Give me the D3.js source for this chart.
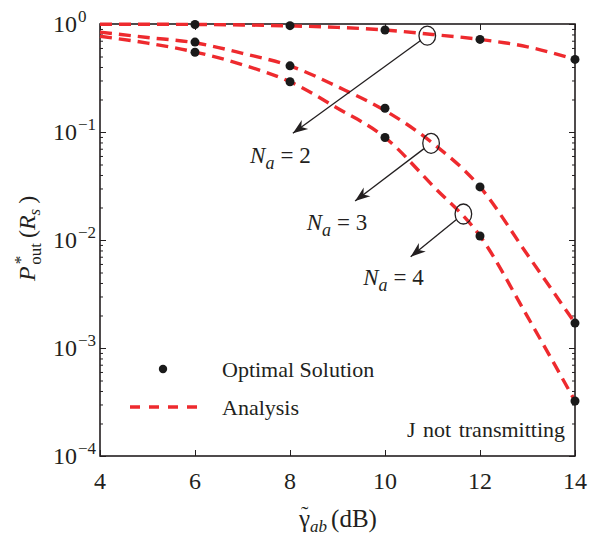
<!DOCTYPE html>
<html>
<head>
<meta charset="utf-8">
<script src="https://cdn.jsdelivr.net/npm/d3@7"></script>
<style>
  html, body { margin: 0; padding: 0; background: #fff; }
  svg { display: block; }
  text { font-family: "Liberation Serif", "Times New Roman", serif; fill: #231f20; }
</style>
</head>
<body>
<svg id="chart" width="606" height="536"></svg>
<script>
// ---------- data ----------
const markerX = [6, 8, 10, 12, 14];
const optNa2 = [0.99, 0.965, 0.88, 0.72, 0.47];
const optNa3 = [0.68, 0.41, 0.166, 0.031, 0.0017];
const optNa4 = [0.547, 0.292, 0.089, 0.0109, 0.000323];

const analysisX = [4, 5, 6, 7, 8, 9, 10, 11, 12, 13, 14];
const anaNa2 = [0.995, 0.995, 0.99, 0.98, 0.96, 0.93, 0.88, 0.80, 0.72, 0.615, 0.47];
const anaNa3 = [0.84, 0.75, 0.67, 0.535, 0.41, 0.263, 0.158, 0.079, 0.031, 0.0073, 0.0017];
const anaNa4 = [0.77, 0.665, 0.55, 0.42, 0.292, 0.166, 0.089, 0.032, 0.0109, 0.00195, 0.000323];

const xTicks = [4, 6, 8, 10, 12, 14];
const yTicks = [1e-4, 1e-3, 1e-2, 1e-1, 1];
const yTickExp = ["\u22124", "\u22123", "\u22122", "\u22121", "0"];

// annotations: ellipse centre, arrow tip, label anchor (data units)
const annoLabels = ["2", "3", "4"];
const annoCirc = [[10.89, 0.78], [10.97, 0.0786], [11.65, 0.0174]];
const annoTip = [[8.06, 0.0973], [9.37, 0.023], [10.54, 0.0070]];
const annoText = [[7.16, 0.052], [8.35, 0.0124], [9.54, 0.00383]];

// ---------- layout ----------
const L = 100, R = 575, T = 24, B = 456;
const svg = d3.select("#chart");
const x = d3.scaleLinear().domain([4, 14]).range([L, R]);
const y = d3.scaleLog().domain([1e-4, 1]).range([B, T]);
const red = "#ee2a2e";

// minor ticks
const minor = [];
for (let e = -4; e < 0; e++) for (let m = 2; m <= 9; m++) minor.push(m * Math.pow(10, e));

function styleAxis(g) {
  g.select(".domain").remove();
  g.selectAll(".tick line").attr("stroke", "#231f20").attr("stroke-width", 1);
  g.selectAll(".tick text").remove();
}
svg.append("g").attr("transform", `translate(0,${B})`).call(d3.axisBottom(x).tickValues(xTicks).tickSize(-6)).call(styleAxis);
svg.append("g").attr("transform", `translate(0,${T})`).call(d3.axisTop(x).tickValues(xTicks).tickSize(-6)).call(styleAxis);
svg.append("g").attr("transform", `translate(${L},0)`).call(d3.axisLeft(y).tickValues(yTicks).tickSize(-6)).call(styleAxis);
svg.append("g").attr("transform", `translate(${R},0)`).call(d3.axisRight(y).tickValues(yTicks).tickSize(-6)).call(styleAxis);
svg.append("g").attr("transform", `translate(${L},0)`).call(d3.axisLeft(y).tickValues(minor).tickSize(-3)).call(styleAxis);
svg.append("g").attr("transform", `translate(${R},0)`).call(d3.axisRight(y).tickValues(minor).tickSize(-3)).call(styleAxis);

// box
svg.append("rect").attr("x", L).attr("y", T).attr("width", R - L).attr("height", B - T)
  .attr("fill", "none").attr("stroke", "#231f20").attr("stroke-width", 1.6);

// x tick labels
svg.append("g").selectAll("text").data(xTicks).join("text")
  .attr("x", d => x(d)).attr("y", B + 33).attr("text-anchor", "middle")
  .attr("font-size", 24).text(d => d);

// y tick labels
const yl = svg.append("g").selectAll("text").data(yTicks).join("text")
  .attr("x", 53).attr("y", d => y(d) + 8).attr("font-size", 24);
yl.append("tspan").text("10");
yl.append("tspan").attr("dx", 1).attr("dy", -10).attr("font-size", 17).text((d, i) => yTickExp[i]);

// analysis curves
const line = d3.line().x(d => x(d[0])).y(d => y(d[1])).curve(d3.curveMonotoneX);
[anaNa2, anaNa3, anaNa4].forEach(vals => {
  svg.append("path").datum(analysisX.map((v, i) => [v, vals[i]]))
    .attr("d", line).attr("fill", "none").attr("stroke", red)
    .attr("stroke-width", 3.4).attr("stroke-dasharray", "12,7");
});

// markers
[optNa2, optNa3, optNa4].forEach(vals => {
  svg.append("g").selectAll("circle").data(markerX.map((v, i) => [v, vals[i]])).join("circle")
    .attr("cx", d => x(d[0])).attr("cy", d => y(d[1])).attr("r", 4.5).attr("fill", "#1a1a1a");
});

// arrow marker
svg.append("defs").append("marker").attr("id", "arr")
  .attr("markerUnits", "userSpaceOnUse").attr("markerWidth", 30).attr("markerHeight", 30)
  .attr("refX", 0).attr("refY", 0).attr("viewBox", "-20 -15 30 30").attr("orient", "auto")
  .append("path").attr("d", "M0,0 L-15,-5.5 L-10.5,0 L-15,5.5 Z").attr("fill", "#231f20");

// annotations
annoLabels.forEach((lab, i) => {
  const cx = x(annoCirc[i][0]), cy = y(annoCirc[i][1]);
  const tx = x(annoTip[i][0]), ty = y(annoTip[i][1]);
  const rx = 8.3, ry = i === 0 ? 9.5 : 10;
  svg.append("ellipse").attr("cx", cx).attr("cy", cy).attr("rx", rx).attr("ry", ry)
    .attr("fill", "none").attr("stroke", "#231f20").attr("stroke-width", 1.3);
  const dx = tx - cx, dy = ty - cy, len = Math.hypot(dx, dy);
  const ux = dx / len, uy = dy / len;
  const t = 1 / Math.sqrt((ux / rx) ** 2 + (uy / ry) ** 2);
  svg.append("line").attr("x1", cx + ux * t).attr("y1", cy + uy * t).attr("x2", tx).attr("y2", ty)
    .attr("stroke", "#231f20").attr("stroke-width", 1.3).attr("marker-end", "url(#arr)");
  const txt = svg.append("text").attr("x", x(annoText[i][0])).attr("y", y(annoText[i][1])).attr("font-size", 23);
  txt.append("tspan").attr("font-style", "italic").text("N");
  txt.append("tspan").attr("font-style", "italic").attr("font-size", 18).attr("dy", 6).text("a");
  txt.append("tspan").attr("dy", -6).attr("dx", 6).text("= " + lab);
});

// legend
svg.append("circle").attr("cx", 163).attr("cy", 369).attr("r", 4.2).attr("fill", "#1a1a1a");
svg.append("text").attr("x", 222).attr("y", 377).attr("font-size", 22).text("Optimal Solution");
svg.append("line").attr("x1", 130).attr("x2", 198).attr("y1", 407).attr("y2", 407)
  .attr("stroke", red).attr("stroke-width", 3.4).attr("stroke-dasharray", "10,9");
svg.append("text").attr("x", 222).attr("y", 415).attr("font-size", 22).text("Analysis");

svg.append("text").attr("x", 565).attr("y", 437).attr("text-anchor", "end").attr("font-size", 22)
  .attr("word-spacing", 2).text("J not transmitting");

// x axis label: gamma with tilde (same text element), italic subscript ab, (dB)
const xLabY = 527;
const xl = svg.append("text").attr("x", 338).attr("y", xLabY).attr("text-anchor", "middle").attr("font-size", 25);
xl.append("tspan").text("\u03B3");
const tilde = xl.append("tspan").attr("font-size", 22).text("\u02DC");
const sub = xl.append("tspan").attr("font-style", "italic").attr("font-size", 17).text("ab");
xl.append("tspan").attr("dy", -5).attr("dx", 4).text("(dB)");
{
  const node = xl.node();
  const g = node.getExtentOfChar(0), tl = node.getExtentOfChar(1);
  const d = -(g.width / 2 + tl.width / 2);
  tilde.attr("dx", d).attr("dy", -6);
  sub.attr("dx", -(d + tl.width)).attr("dy", 11);
}

// y axis label
const ylab = svg.append("text").attr("transform", "translate(35,281) rotate(-90)").attr("font-size", 24);
ylab.append("tspan").attr("font-style", "italic").text("P");
ylab.append("tspan").attr("font-size", 17).attr("dy", -9).attr("dx", 2).text("*");
ylab.append("tspan").attr("font-size", 17).attr("dy", 15).attr("dx", -9).text("out");
ylab.append("tspan").attr("dy", -6).attr("dx", 5).text("(");
ylab.append("tspan").attr("font-style", "italic").text("R");
ylab.append("tspan").attr("font-style", "italic").attr("font-size", 17).attr("dy", 5).text("s");
ylab.append("tspan").attr("dy", -5).attr("dx", 5).text(")");
</script>
</body>
</html>
